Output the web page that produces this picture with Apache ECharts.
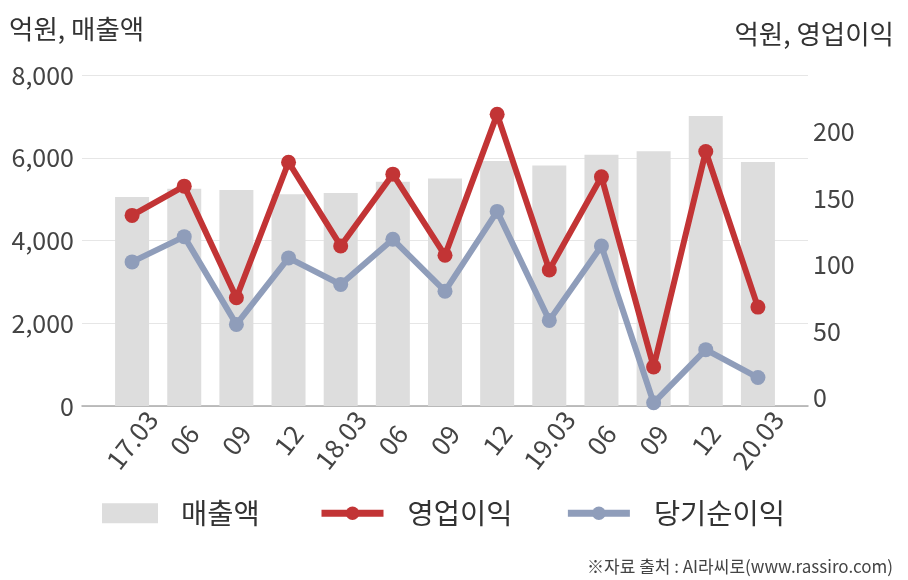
<!DOCTYPE html>
<html><head><meta charset="utf-8">
<script src="https://cdn.jsdelivr.net/npm/echarts@6/dist/echarts.min.js"></script>
<style>html,body{margin:0;padding:0;background:#fff}#c{width:908px;height:580px}</style>
</head><body><div id="c"></div>
<script>
const categories = ['17.03','06','09','12','18.03','06','09','12','19.03','06','09','12','20.03'];
const sales = [5050,5250,5220,5120,5150,5420,5500,5920,5810,6070,6160,7010,5900];
const operatingProfit = [137,159,75,177,114,168,107,213,96,166,23,185,68];
const netProfit = [102,121,55,105,85,119,80,140,58,114,-4,36,15];
const seriesNames = ['매출액','영업이익','당기순이익'];
const leftAxisTitle = '억원, 매출액';
const rightAxisTitle = '억원, 영업이익';
const sourceText = '※자료 출처 : AI라씨로(www.rassiro.com)';

const FONT = '"Noto Sans CJK KR", "Noto Sans", sans-serif';
const RMIN = -6.4, RMAX = 242.6;
const chart = echarts.init(document.getElementById('c'));
chart.setOption({
  animation: false,
  backgroundColor: '#fff',
  textStyle: {fontFamily: FONT},
  title: [
    {text: leftAxisTitle, left: 9, top: 16, padding: 0, textStyle: {fontFamily: FONT, fontSize: 26.5, fontWeight: 'normal', color: '#333'}},
    {text: rightAxisTitle, right: 14, top: 21, padding: 0, textStyle: {fontFamily: FONT, fontSize: 26.5, fontWeight: 'normal', color: '#333'}},
    {text: sourceText, right: 15, top: 558, padding: 0, textStyle: {fontFamily: FONT, fontSize: 17, fontWeight: 'normal', color: '#444'}}
  ],
  legend: [
    {data: [seriesNames[0]], left: 102, top: 499, padding: 0, icon: 'rect', itemWidth: 56, itemHeight: 20,
     textStyle: {fontFamily: FONT, fontSize: 28.5, color: '#333', padding: [0,0,0,18]}},
    {data: [seriesNames[1], seriesNames[2]], left: 318, top: 499, padding: 0, itemWidth: 62, itemHeight: 17, itemGap: 52,
     lineStyle: {width: 7},
     textStyle: {fontFamily: FONT, fontSize: 28.5, color: '#333', padding: [0,0,0,19]}}
  ],
  grid: [
    {left: 82, right: 100, top: 75, bottom: 174},
    {left: 106, right: 124, top: 75, bottom: 174}
  ],
  xAxis: [
    {type: 'category', gridIndex: 0, data: categories, axisLine: {show: true, lineStyle: {color: '#aaaaaa', width: 1.5}},
     axisTick: {show: false}, axisLabel: {show: false}, splitLine: {show: false}},
    {type: 'category', gridIndex: 1, data: categories, axisLine: {show: false}, axisTick: {show: false},
     axisLabel: {rotate: 52, align: 'center', verticalAlign: 'middle', margin: 34, interval: 0,
       fontFamily: FONT, fontSize: 26, color: '#444'}}
  ],
  yAxis: [
    {type: 'value', gridIndex: 0, min: 0, max: 8000, interval: 2000, position: 'left',
     axisLine: {show: false}, axisTick: {show: false},
     axisLabel: {margin: 8, fontFamily: FONT, fontSize: 25, color: '#444',
       formatter: v => v.toLocaleString('en-US')},
     splitLine: {lineStyle: {color: '#e6e6e6', width: 1}}},
    {type: 'value', gridIndex: 0, min: RMIN, max: RMAX, splitNumber: 5, position: 'right',
     axisLine: {show: false}, axisTick: {show: false}, splitLine: {show: false},
     axisLabel: {margin: 5, fontFamily: FONT, fontSize: 25, color: '#444',
       formatter: v => (Math.abs(v % 50) < 1e-6 && v >= 0) ? String(Math.round(v)) : ''}},
    {type: 'value', gridIndex: 1, min: 0, max: 8000, show: false, splitLine: {show: false}},
    {type: 'value', gridIndex: 1, min: RMIN, max: RMAX, show: false, splitLine: {show: false}}
  ],
  series: [
    {name: seriesNames[0], type: 'bar', xAxisIndex: 1, yAxisIndex: 2, data: sales, barWidth: 34,
     itemStyle: {color: '#dddddd'}, z: 1},
    {name: seriesNames[1], type: 'line', xAxisIndex: 1, yAxisIndex: 3, data: operatingProfit,
     symbol: 'circle', symbolSize: 15, lineStyle: {width: 6, color: '#c23435'}, itemStyle: {color: '#c23435'}, z: 4},
    {name: seriesNames[2], type: 'line', xAxisIndex: 1, yAxisIndex: 3, data: netProfit,
     symbol: 'circle', symbolSize: 15, lineStyle: {width: 6, color: '#8f9dba'}, itemStyle: {color: '#8f9dba'}, z: 3}
  ]
});
</script></body></html>
